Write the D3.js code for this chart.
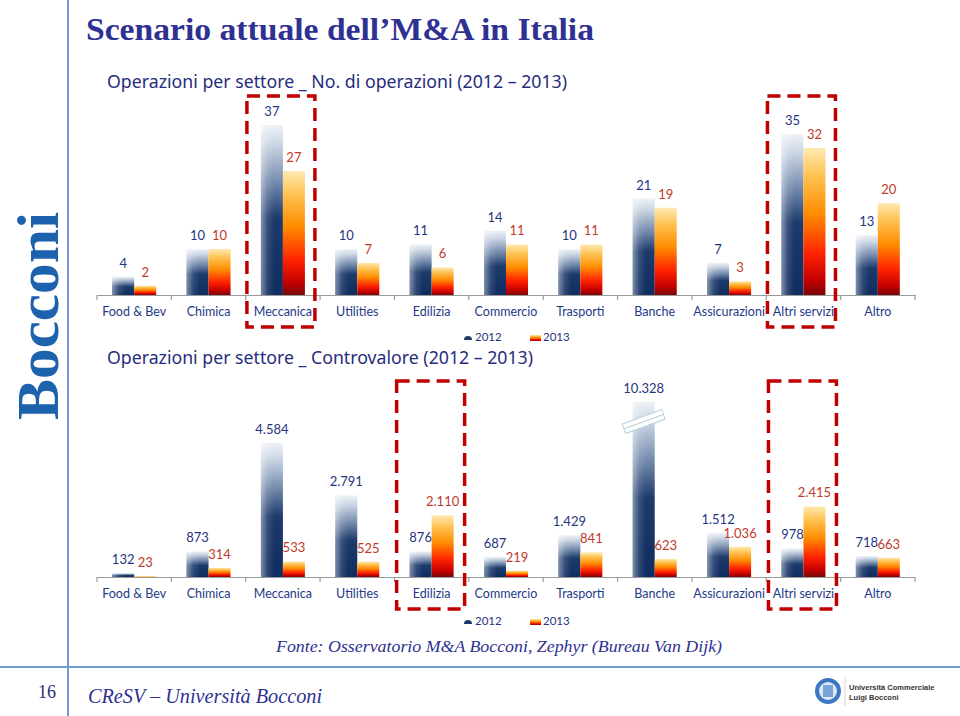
<!DOCTYPE html>
<html>
<head>
<meta charset="utf-8">
<script src="https://cdn.jsdelivr.net/npm/d3@7"></script>
<style>
  html, body { margin: 0; padding: 0; background: #ffffff; }
  svg { display: block; }
</style>
</head>
<body>
<svg id="chart" width="960" height="716"></svg>
<script>
// ---------------- DATA ----------------
const categories = ["Food & Bev","Chimica","Meccanica","Utilities","Edilizia","Commercio","Trasporti","Banche","Assicurazioni","Altri servizi","Altro"];
const years = ["2012","2013"];
const ops2012 = [4,10,37,10,11,14,10,21,7,35,13];
const ops2013 = [2,10,27,7,6,11,11,19,3,32,20];
const val2012 = [132,873,4584,2791,876,687,1429,10328,1512,978,718];
const val2013 = [23,314,533,525,2110,219,841,623,1036,2415,663];
const highlight1 = ["Meccanica","Altri servizi"];
const highlight2 = ["Edilizia","Altri servizi"];
const title = "Scenario attuale dell\u2019M&A in Italia";
const subtitle1 = "Operazioni per settore _ No. di operazioni (2012 \u2013 2013)";
const subtitle2 = "Operazioni per settore _ Controvalore (2012 \u2013 2013)";
const source = "Fonte: Osservatorio M&A Bocconi, Zephyr (Bureau Van Dijk)";
const footer = "CReSV \u2013 Universit\u00e0 Bocconi";
const pageNum = "16";
const breakValue = 6000; // bars above this value are drawn with an axis break

// ---------------- SETUP ----------------
const svg = d3.select("#chart");
const defs = svg.append("defs");

const g12 = defs.append("linearGradient").attr("id","g2012").attr("x1",0).attr("y1",0).attr("x2",0).attr("y2",1);
[["0%","#eef2f7"],["12%","#c9d4e3"],["35%","#6f86a8"],["55%","#1d3a6c"],["100%","#0f2d60"]]
  .forEach(s => g12.append("stop").attr("offset",s[0]).attr("stop-color",s[1]));
const g12h = defs.append("linearGradient").attr("id","g2012h").attr("x1",0).attr("y1",0).attr("x2",1).attr("y2",0);
[["0%","#ffffff",0.45],["30%","#ffffff",0.12],["60%","#ffffff",0]]
  .forEach(s => g12h.append("stop").attr("offset",s[0]).attr("stop-color",s[1]).attr("stop-opacity",s[2]));
const g13 = defs.append("linearGradient").attr("id","g2013").attr("x1",0).attr("y1",0).attr("x2",0).attr("y2",1);
[["0%","#ffeab3"],["18%","#ffc455"],["45%","#ff8c00"],["72%","#ff2200"],["90%","#c40000"],["100%","#7a0808"]]
  .forEach(s => g13.append("stop").attr("offset",s[0]).attr("stop-color",s[1]));

const titleColor = "#2e3192";
const navy = "#1f3580";
const red = "#c0392b";
const catColor = "#1e3a88";

const fmt = d3.formatLocale({decimal:",", thousands:".", grouping:[3], currency:["€",""]}).format(",d");

// ---------------- SLIDE FRAME ----------------
svg.append("line").attr("x1",68).attr("x2",68).attr("y1",0).attr("y2",716)
  .attr("stroke","#6d9bd0").attr("stroke-width",2);
svg.append("line").attr("x1",0).attr("x2",960).attr("y1",667).attr("y2",667)
  .attr("stroke","#6d9bd0").attr("stroke-width",2);

svg.append("text").attr("x",86).attr("y",40).text(title)
  .attr("font-family","Liberation Serif, serif").attr("font-weight","bold").attr("font-size",31)
  .attr("fill",titleColor).attr("textLength",508).attr("lengthAdjust","spacingAndGlyphs");

svg.append("text").attr("transform","translate(58,420) rotate(-90)").text("Bocconi")
  .attr("font-family","Liberation Serif, serif").attr("font-weight","bold").attr("font-size",60)
  .attr("fill","#1c62ad").attr("textLength",208).attr("lengthAdjust","spacingAndGlyphs");

svg.append("text").attr("x",276).attr("y",652).text(source)
  .attr("font-family","Liberation Serif, serif").attr("font-style","italic").attr("font-size",16)
  .attr("fill",titleColor).attr("textLength",446).attr("lengthAdjust","spacingAndGlyphs");

svg.append("text").attr("x",88).attr("y",703).text(footer)
  .attr("font-family","Liberation Serif, serif").attr("font-style","italic").attr("font-size",20)
  .attr("fill",titleColor).attr("textLength",234).attr("lengthAdjust","spacingAndGlyphs");

svg.append("text").attr("x",38).attr("y",698).text(pageNum)
  .attr("font-family","Liberation Serif, serif").attr("font-size",18).attr("fill","#1f2f6f");

// logo
const logo = svg.append("g").attr("transform","translate(828,691)");
logo.append("circle").attr("r",13).attr("fill","#3a78c2");
logo.append("circle").attr("r",9).attr("fill","#dce8f5");
logo.append("rect").attr("x",-5).attr("y",-6).attr("width",10).attr("height",12).attr("fill","#3a78c2").attr("opacity",0.6);
svg.append("line").attr("x1",845).attr("x2",845).attr("y1",677).attr("y2",706).attr("stroke","#bbb").attr("stroke-width",0.6);
svg.append("text").attr("x",849).attr("y",690).text("Universit\u00e0 Commerciale")
  .attr("font-family","Liberation Sans, sans-serif").attr("font-weight","bold").attr("font-size",7.5).attr("fill","#333");
svg.append("text").attr("x",849).attr("y",700).text("Luigi Bocconi")
  .attr("font-family","Liberation Sans, sans-serif").attr("font-weight","bold").attr("font-size",7.5).attr("fill","#333");

// ---------------- CHART BUILDER ----------------
const x0 = d3.scaleBand().domain(categories).range([97, 915]).paddingInner(0).paddingOuter(0);
const x1 = d3.scaleBand().domain(years).range([0, 44]);

function drawChart(opts) {
  const g = svg.append("g");
  const y = opts.y;
  const base = y(0);

  g.append("text").attr("x",107).attr("y",opts.subY).text(opts.subtitle)
    .attr("font-family","Noto Sans, sans-serif").attr("font-size",18).attr("fill","#262d7c")
    .attr("textLength",opts.subLen).attr("lengthAdjust","spacingAndGlyphs");

  const rows = categories.map((c,i) => ({cat:c, v:[opts.a[i], opts.b[i]]}));

  rows.forEach(r => {
    const cx = x0(r.cat) + x0.bandwidth()/2;
    years.forEach((yr, k) => {
      const v = r.v[k];
      const shown = opts.cap ? Math.min(v, opts.cap) : v;
      const bx = cx - 22 + x1(yr);
      const top = y(shown);
      const h = base - top;
      g.append("rect").attr("x",bx).attr("y",top).attr("width",x1.bandwidth()).attr("height",h)
        .attr("fill", k===0 ? "url(#g2012)" : "url(#g2013)");
      if (k===0) {
        g.append("rect").attr("x",bx).attr("y",top).attr("width",x1.bandwidth()).attr("height",h)
          .attr("fill","url(#g2012h)");
      }
      if (opts.cap && v > opts.cap) {
        const by = top + 20;
        const bk = g.append("g").attr("transform",`translate(${bx + x1.bandwidth()/2},${by}) rotate(-20)`);
        bk.append("rect").attr("x",-21).attr("y",-5).attr("width",42).attr("height",10)
          .attr("fill","#ffffff").attr("stroke","#b8d0dc").attr("stroke-width",1);
        bk.append("line").attr("x1",-21).attr("x2",21).attr("y1",0).attr("y2",0)
          .attr("stroke","#b8d0dc").attr("stroke-width",1);
      }
      g.append("text").attr("x", bx + x1.bandwidth()/2).attr("y", top - 9).text(opts.fmt(v))
        .attr("text-anchor","middle").attr("font-family","Lato, sans-serif").attr("font-size",opts.lblSize)
        .attr("fill", k===0 ? navy : red);
    });
  });

  const axis = d3.axisBottom(x0).tickSize(0).tickPadding(12);
  const ax = g.append("g").attr("transform",`translate(0,${base})`).call(axis);
  ax.select(".domain").attr("stroke","#9a9a9a").attr("stroke-width",1.2);
  ax.selectAll("text").attr("font-family","Lato, sans-serif").attr("font-size",12.5).attr("fill",catColor);
  // separators between categories
  const edges = categories.map(c => x0(c)).concat([x0.range()[1]]);
  g.selectAll(".sep").data(edges).enter().append("line")
    .attr("x1",d=>d).attr("x2",d=>d).attr("y1",base).attr("y2",base+5)
    .attr("stroke","#9a9a9a").attr("stroke-width",1.2);

  // highlight boxes
  opts.hl.forEach(c => {
    const cx = x0(c) + x0.bandwidth()/2;
    g.append("rect").attr("x",cx-35+opts.hlDx).attr("y",opts.boxTop).attr("width",68).attr("height",opts.boxBottom-opts.boxTop)
      .attr("fill","none").attr("stroke","#c00000").attr("stroke-width",3.5).attr("stroke-dasharray","13,7");
  });

  // legend
  const lg = g.append("g").attr("transform",`translate(0,${opts.legY})`);
  lg.append("path").attr("d","M464,3 a4,4 0 0 1 8,0 z").attr("fill","#1f3a6c");
  lg.append("text").attr("x",475).attr("y",4).text("2012").attr("font-family","Lato, sans-serif")
    .attr("font-size",11.5).attr("fill",navy);
  lg.append("rect").attr("x",530).attr("y",-2).attr("width",11).attr("height",6).attr("fill","url(#g2013)");
  lg.append("text").attr("x",543).attr("y",4).text("2013").attr("font-family","Lato, sans-serif")
    .attr("font-size",11.5).attr("fill",navy);
}

drawChart({
  a: ops2012, b: ops2013,
  y: d3.scaleLinear().domain([0,37]).range([295,125]),
  subtitle: subtitle1, subY: 88, subLen: 460,
  fmt: d => String(d), lblSize: 13,
  hl: highlight1, hlDx: -1, boxTop: 96, boxBottom: 327,
  legY: 337
});

drawChart({
  a: val2012, b: val2013,
  y: d3.scaleLinear().domain([0,4584]).range([577,443]),
  cap: breakValue,
  subtitle: subtitle2, subY: 364, subLen: 426,
  fmt: fmt, lblSize: 13,
  hl: highlight2, hlDx: 0, boxTop: 381, boxBottom: 609,
  legY: 621
});
</script>
</body>
</html>
